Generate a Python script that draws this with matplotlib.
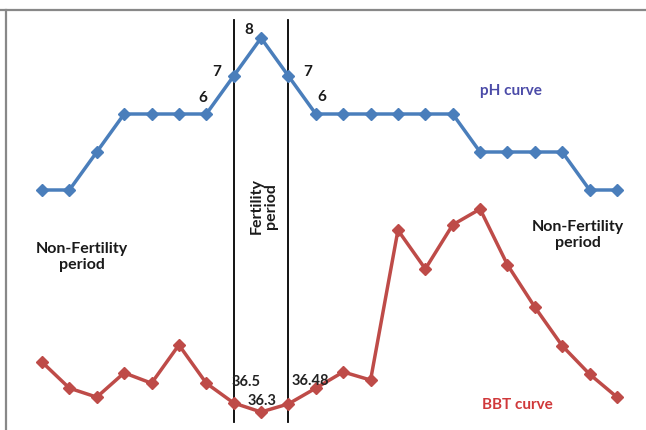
import matplotlib
matplotlib.use("Agg")
import matplotlib.pyplot as plt
from matplotlib.lines import Line2D

# ---- data ----
days = list(range(22))
ph_values = [4, 4, 5, 6, 6, 6, 6, 7, 8, 7, 6, 6, 6, 6, 6, 6, 5, 5, 5, 5, 4, 4]
bbt_values = [37.41, 36.83, 36.63, 37.17, 36.94, 37.79, 36.94, 36.50, 36.30, 36.48,
              36.83, 37.19, 37.01, 40.34, 39.48, 40.46, 40.81, 39.57, 38.63, 37.77,
              37.14, 36.63]
ph_labels = {6: "6", 7: "7", 8: "8", 9: "7", 10: "6"}
ph_label_offsets = {6: (-3, 16), 7: (-17, 4), 8: (-12, 8), 9: (19, 4), 10: (6, 17)}
bbt_labels = {7: "36.5", 8: "36.3", 9: "36.48"}
bbt_label_offsets = {7: (12, 21), 8: (1, 11), 9: (22, 23)}
fertile_bounds = [7, 9]

W, H = 646, 430
fig = plt.figure(figsize=(W / 100, H / 100), dpi=100)
ax = fig.add_axes([0, 0, 1, 1])
ax2 = ax.twinx()
for a in (ax, ax2):
    a.set_axis_off()

step = (617 - 42) / 21
ax.set_xlim(-42 / step, 21 + (W - 617) / step)
ax.set_ylim(4 - (H - 190) / 38, 4 + 190 / 38)
ax2.set_ylim(36.5 - (H - 403) / 45, 36.5 + 403 / 45)

FONT = "Lato"
blue = "#4a7ebb"
red = "#be4b48"

ax.plot(days, ph_values, color=blue, lw=2.5, marker="D", ms=6.5,
        markeredgecolor=blue, zorder=3)
ax2.plot(days, bbt_values, color=red, lw=2.5, marker="D", ms=6.5,
         markeredgecolor=red, zorder=3)

for b in fertile_bounds:
    ax.axvline(b, ymin=(H - 422) / H, ymax=(H - 20) / H, color="black", lw=1.3, zorder=2)

for i, t in ph_labels.items():
    ax.annotate(t, (days[i], ph_values[i]), xytext=ph_label_offsets[i],
                textcoords="offset pixels", ha="center", va="center",
                fontsize=11, fontweight="bold", family=FONT, color="#1a1a1a")
for i, t in bbt_labels.items():
    ax2.annotate(t, (days[i], bbt_values[i]), xytext=bbt_label_offsets[i],
                 textcoords="offset pixels", ha="center", va="center",
                 fontsize=10.5, fontweight="bold", family=FONT, color="#222222")

def px(x, y):
    return x / W, 1 - y / H

fig.text(*px(511, 91), "pH curve", ha="center", va="center", fontsize=11,
         fontweight="bold", family=FONT, color="#4b4ba8")
fig.text(*px(517, 405), "BBT curve", ha="center", va="center", fontsize=11,
         fontweight="bold", family=FONT, color="#d0383a")
fig.text(*px(82, 257), "Non-Fertility\nperiod", ha="center", va="center", fontsize=11.5,
         fontweight="bold", family=FONT, color="#1a1a1a", linespacing=1.15)
fig.text(*px(578, 235), "Non-Fertility\nperiod", ha="center", va="center", fontsize=11.5,
         fontweight="bold", family=FONT, color="#1a1a1a", linespacing=1.15)
fig.text(*px(264, 206), "Fertility\nperiod", ha="center", va="center", fontsize=11.5,
         fontweight="bold", family=FONT, color="#1a1a1a", rotation=90, linespacing=1.05)

# frame lines
fig.add_artist(Line2D([0, 1], [1 - 10 / H, 1 - 10 / H], color="#888888", lw=1.6,
                      transform=fig.transFigure))
fig.add_artist(Line2D([6 / W, 6 / W], [0, 1 - 10 / H], color="#888888", lw=1.6,
                      transform=fig.transFigure))

fig.savefig("out.png", dpi=100)
